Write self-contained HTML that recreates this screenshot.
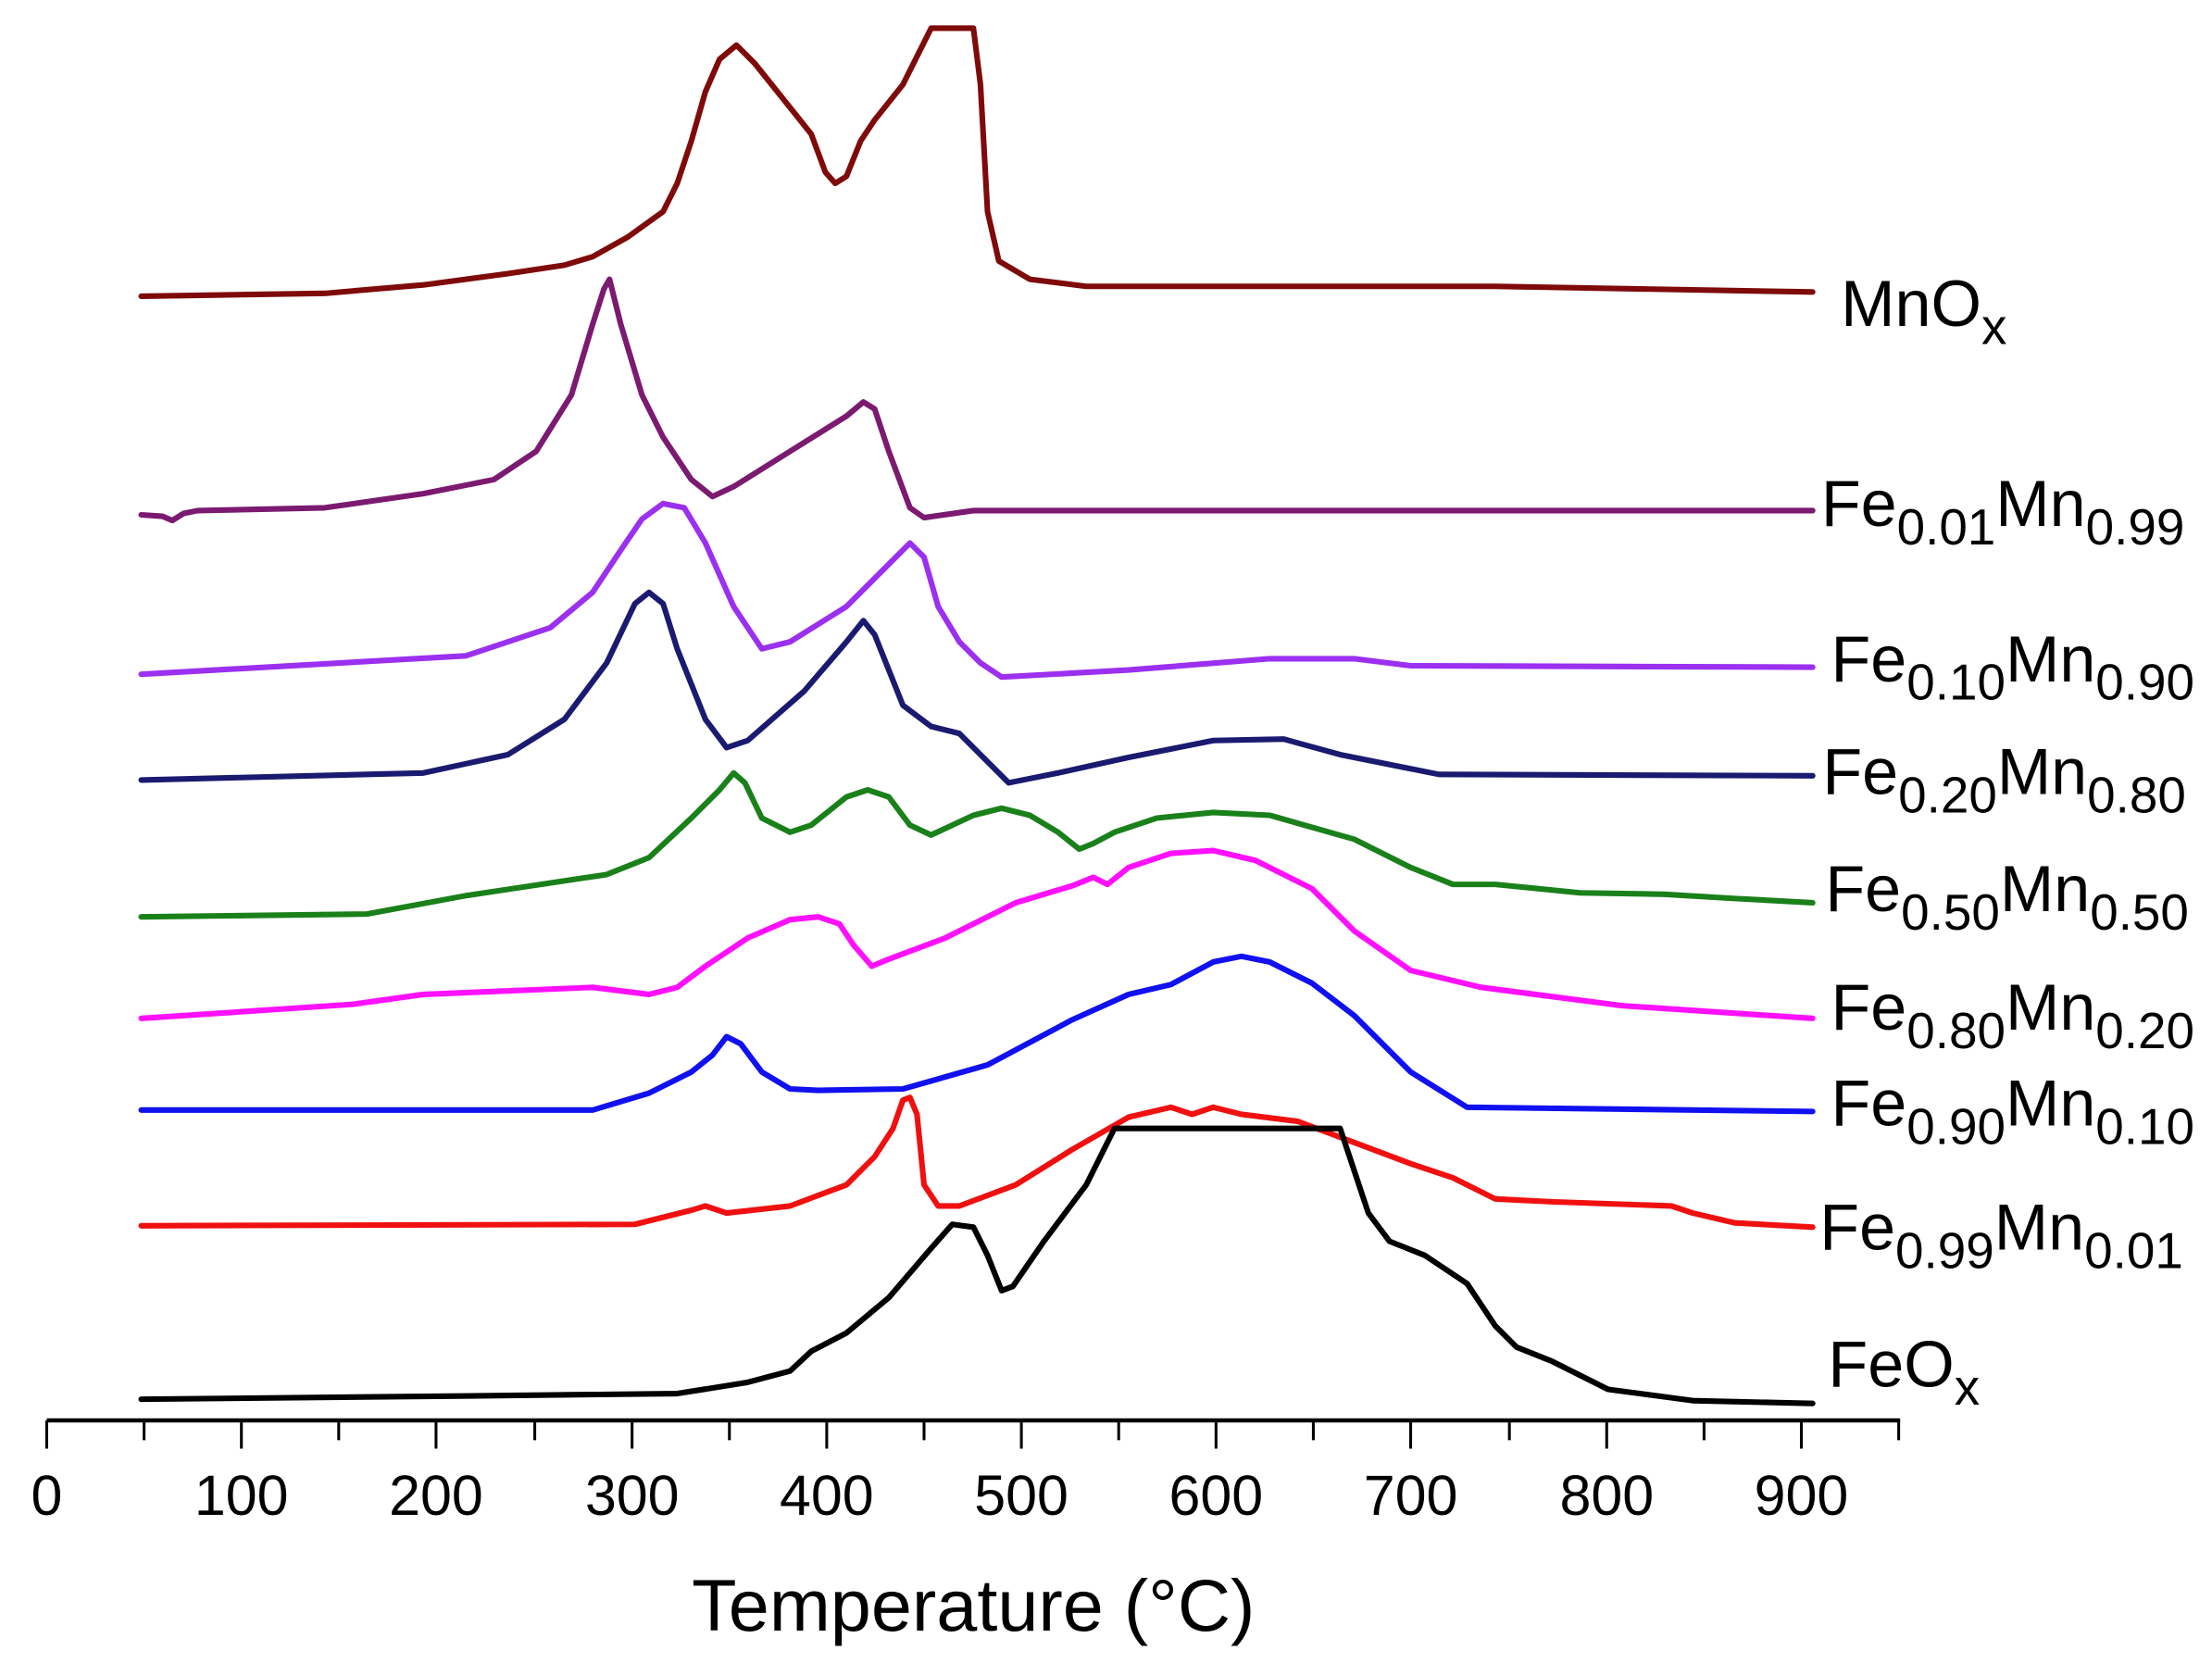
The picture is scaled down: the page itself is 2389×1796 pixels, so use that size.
<!DOCTYPE html>
<html><head><meta charset="utf-8"><style>html,body{margin:0;padding:0;background:#fff}svg{display:block}</style></head>
<body>
<svg width="2389" height="1796" viewBox="0 0 1568 1179" xmlns="http://www.w3.org/2000/svg" font-family="Liberation Sans, sans-serif">
<g fill="none" stroke-width="4" stroke-linejoin="round" stroke-linecap="round">
<polyline stroke="#7f0a0a" points="100,210 230,208 300,202 330,198 360,194 400,188 420,182 445,168 470,150 480,130 490,100 500,65 510,42 522,32 535,45 555,70 575,95 585,122 592,130 600,125 610,100 620,85 640,60 660,20 690,20 695,60 700,150 708,185 730,198 770,203 1060,203 1285,207"/>
<polyline stroke="#7b1a70" points="100,365 115,366 122,369 130,364 140,362 230,360 300,350 350,340 380,320 405,280 420,230 428,205 432,198 440,230 455,280 470,310 490,340 505,352 520,345 560,320 600,295 612,285 620,290 630,320 645,360 655,367 690,362 1285,362"/>
<polyline stroke="#9b30f0" points="100,478 330,465 390,445 420,420 440,390 455,368 470,357 485,360 500,385 520,430 540,460 560,455 600,430 630,400 645,385 655,395 665,430 680,455 695,470 710,480 800,475 900,467 960,467 1000,472 1285,473"/>
<polyline stroke="#1a1a70" points="100,553 300,548 360,535 400,510 430,470 450,428 460,420 470,428 480,460 500,510 515,530 530,525 570,490 600,455 612,440 620,450 640,500 660,515 680,520 700,540 715,555 750,548 800,537 860,525 910,524 950,535 1000,545 1020,549 1285,550"/>
<polyline stroke="#1a801a" points="100,650 260,648 330,635 430,620 460,608 490,580 510,560 520,548 528,555 540,580 560,590 575,585 600,565 615,560 630,565 645,585 660,592 690,578 710,573 730,578 750,590 765,602 775,598 790,590 820,580 860,576 900,578 960,595 1000,615 1030,627 1060,627 1120,633 1180,634 1230,637 1285,640"/>
<polyline stroke="#ff10ff" points="100,722 250,712 300,705 420,700 460,705 480,700 500,685 530,665 560,652 580,650 595,655 605,670 618,685 630,680 670,665 720,640 760,628 775,622 785,627 800,615 830,605 860,603 890,610 930,630 960,660 1000,688 1050,700 1150,713 1285,722"/>
<polyline stroke="#1010f0" points="100,787 420,787 460,775 490,760 505,748 515,735 525,740 540,760 560,772 580,773 640,772 700,755 760,723 800,705 830,698 860,682 880,678 900,682 930,697 960,720 1000,760 1040,785 1285,788"/>
<polyline stroke="#f01010" points="100,869 450,868 490,858 500,855 515,860 560,855 600,840 620,820 633,800 640,780 645,778 650,790 655,840 665,855 680,855 720,840 760,815 800,792 830,785 845,790 860,785 880,790 920,795 960,810 1000,825 1030,835 1060,850 1100,852 1185,855 1200,860 1230,867 1285,870"/>
<polyline stroke="#000" points="100,992 300,990 480,988 530,980 560,972 575,958 600,945 630,920 660,885 675,868 690,870 700,890 710,915 718,912 740,880 770,840 790,800 950,800 970,860 985,880 1010,890 1040,910 1060,940 1075,955 1100,965 1140,985 1200,993 1285,995"/>
</g>
<g stroke="#000" stroke-width="3">
<line x1="33" y1="1007" x2="1347" y2="1007"/>
<g stroke-width="2">
<path d="M33 1007v20M171 1007v20M309 1007v20M448 1007v20M586 1007v20M724 1007v20M862 1007v20M1000 1007v20M1139 1007v20M1277 1007v20"/>
<path d="M102 1007v14M240 1007v14M379 1007v14M517 1007v14M655 1007v14M793 1007v14M931 1007v14M1070 1007v14M1208 1007v14M1346 1007v14"/>
</g></g>
<g font-size="40" text-anchor="middle" fill="#000">
<text x="33" y="1074">0</text><text x="171" y="1074">100</text><text x="309" y="1074">200</text><text x="448" y="1074">300</text><text x="586" y="1074">400</text><text x="724" y="1074">500</text><text x="862" y="1074">600</text><text x="1000" y="1074">700</text><text x="1139" y="1074">800</text><text x="1277" y="1074">900</text>
<text x="690" y="1156" font-size="52">Temperature (°C)</text>
</g>
<g font-size="46" fill="#000">
<text x="1305" y="231">MnO<tspan font-size="36" dy="13">x</tspan></text>
<text x="1291" y="373">Fe<tspan font-size="36" dy="13">0.01</tspan><tspan dy="-13">Mn</tspan><tspan font-size="36" dy="13">0.99</tspan></text>
<text x="1298" y="483">Fe<tspan font-size="36" dy="13">0.10</tspan><tspan dy="-13">Mn</tspan><tspan font-size="36" dy="13">0.90</tspan></text>
<text x="1292" y="563">Fe<tspan font-size="36" dy="13">0.20</tspan><tspan dy="-13">Mn</tspan><tspan font-size="36" dy="13">0.80</tspan></text>
<text x="1294" y="646">Fe<tspan font-size="36" dy="13">0.50</tspan><tspan dy="-13">Mn</tspan><tspan font-size="36" dy="13">0.50</tspan></text>
<text x="1298" y="730">Fe<tspan font-size="36" dy="13">0.80</tspan><tspan dy="-13">Mn</tspan><tspan font-size="36" dy="13">0.20</tspan></text>
<text x="1298" y="798">Fe<tspan font-size="36" dy="13">0.90</tspan><tspan dy="-13">Mn</tspan><tspan font-size="36" dy="13">0.10</tspan></text>
<text x="1290" y="886">Fe<tspan font-size="36" dy="13">0.99</tspan><tspan dy="-13">Mn</tspan><tspan font-size="36" dy="13">0.01</tspan></text>
<text x="1296" y="983">FeO<tspan font-size="36" dy="13">x</tspan></text>
</g>
</svg>
</body></html>
